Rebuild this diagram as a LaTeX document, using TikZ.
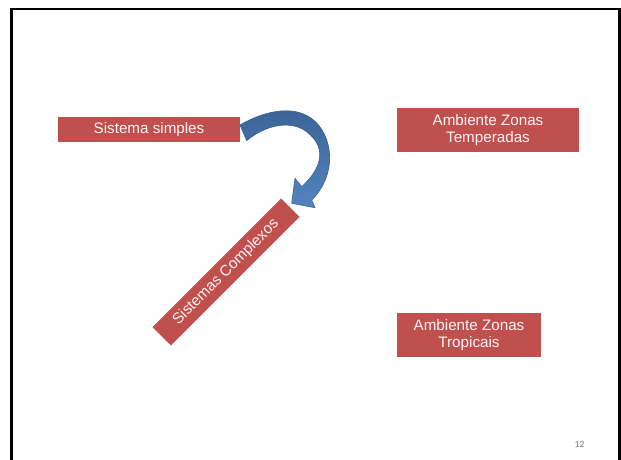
\documentclass[tikz,border=0pt]{standalone}
\usepackage{fontspec}
\setmainfont{Liberation Sans}
\newfontfamily\numfont{Carlito}
\definecolor{boxred}{RGB}{192,80,77}
\definecolor{txtwhite}{RGB}{252,244,244}
\definecolor{arrowtop}{RGB}{58,97,148}
\definecolor{arrowbot}{RGB}{82,132,192}
\definecolor{arrowline}{RGB}{56,93,138}
\begin{document}
\begin{tikzpicture}[x=1pt,y=-1pt,
  redbox/.style={fill=boxred, text=txtwhite, inner sep=0pt, align=center,
    font=\fontsize{15.2}{17.7}\selectfont},
  frameline/.style={line width=2.6pt, black}]
\useasboundingbox (0,0) rectangle (621,459);
\clip (0,0) rectangle (621,459);
% slide frame
\draw[frameline] (11.5,470) -- (11.5,9) -- (619.5,9) -- (619.5,470);
% boxes
\node[redbox, minimum width=182pt, minimum height=25pt] (simples) at (149,129.5) {Sistema simples};
\node[redbox, minimum width=182pt, minimum height=44pt] (temp) at (488,130) {Ambiente Zonas\\Temperadas};
\node[redbox, minimum width=144pt, minimum height=44pt] (trop) at (469,335) {Ambiente Zonas\\Tropicais};
\node[redbox, minimum width=182pt, minimum height=26pt, rotate=45] (complexos) at (226,272) {Sistemas Complexos};
% curved block arrow
\shadedraw[top color=arrowtop, bottom color=arrowbot, draw=arrowline, line width=0.6pt, line join=miter]
  (240,125) .. controls (262,112) and (300,100) .. (320,127)
  .. controls (334,146) and (334,178) .. (311.7,200)
  -- (315,207.7) -- (291.7,203.3) -- (295,178.3) -- (301.7,186.7)
  .. controls (318,172) and (330,150) .. (307,132)
  .. controls (291,119.4) and (265,125) .. (246.7,140.7)
  -- cycle;
% page number
\node[text=black!55, font=\numfont\fontsize{9.5}{11}\selectfont, inner sep=0pt] (pnum) at (579.5,444.5) {12};
\end{tikzpicture}
\end{document}
